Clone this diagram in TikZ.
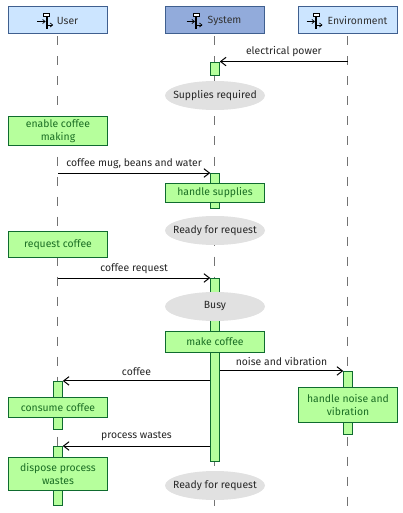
\documentclass[tikz,border=0pt]{standalone}
\usepackage{xcolor}
\usepackage{fontspec}
\setmainfont{Fira Sans}
\usepackage{tikz}
\usetikzlibrary{arrows.meta,positioning,shapes.geometric}

\definecolor{headblue}{HTML}{CCE5FF}
\definecolor{sysblue}{HTML}{92ABDB}
\definecolor{headline}{HTML}{3F5F8F}
\definecolor{actgreen}{HTML}{B6FF9C}
\definecolor{actline}{HTML}{0F6B2F}
\definecolor{acttext}{HTML}{1B6E24}
\definecolor{statefill}{HTML}{E1E1E1}

\begin{document}
\begin{tikzpicture}[
  x=1pt,y=-1pt,
  font=\fontsize{10.4}{12.8}\selectfont,
  head/.style={draw=headline,fill=headblue,rectangle,minimum width=99pt,minimum height=27pt,inner sep=0pt,line width=1pt,text=black!80},
  func/.style={draw=actline,fill=actgreen,rectangle,minimum width=99pt,inner sep=0pt,align=center,line width=1pt,text=acttext},
  act/.style={draw=actline,fill=actgreen,rectangle,minimum width=8.5pt,inner sep=0pt,line width=1pt},
  state/.style={ellipse,fill=statefill,minimum width=100pt,minimum height=29pt,inner xsep=-7pt,inner ysep=0pt,text=black!85},
  life/.style={draw=black!55,line width=0.8pt,dash pattern=on 9pt off 11pt,dash phase=18pt},
  msg/.style={-{Straight Barb[length=5.5pt,width=8.5pt]},line width=1pt,black},
  msgtext/.style={inner sep=0pt,text=black!85},
  mini/.pic={
    \draw[line width=1pt,fill=white] (-3,-7.5) rectangle (3,-4);
    \draw[line width=2pt] (0,-4) -- (0,8.5);
    \draw[line width=0.7pt,-{Straight Barb[length=2.5pt,width=4pt]}] (-9.5,0.5) -- (-1,0.5);
    \draw[line width=0.7pt,-{Straight Barb[length=2.5pt,width=4pt]}] (1,4) -- (6.5,4);
  }
]
\useasboundingbox (0,0) rectangle (403,513);

% columns
\node[head] (user) at (58,20.5) {\hspace*{19pt}User};
\node[head,fill=sysblue] (system) at (215,20.5) {\hspace*{19pt}System};
\node[head] (env) at (348,20.5) {\hspace*{19pt}Environment};
\pic at (46.7,21) {mini};
\pic at (196,21) {mini};
\pic at (316,21) {mini};

\coordinate (userend) at (57.5,510);
\coordinate (sysend) at (214.5,510);
\coordinate (envend) at (347.5,510);
\draw[life] (user.south -| userend) -- (userend);
\draw[life] (system.south -| sysend) -- (sysend);
\draw[life] (env.south -| envend) -- (envend);

% activations
\node[act,minimum height=13.5pt] (sysa) at (215,68.8) {};
\node[act,minimum height=35pt] (sysb) at (215,191) {};
\node[act,minimum height=183pt] (sysc) at (215,370) {};
\node[act,minimum height=63.5pt] (enva) at (348,403.2) {};
\node[act,minimum height=48pt] (usera) at (58,405.4) {};
\node[act,minimum height=59pt] (userb) at (58,476) {};

% functions
\node[func,minimum height=29pt] (enable) at (58,131) {enable coffee\\making};
\node[func,minimum height=19pt] (handle) at (215,192.8) {handle supplies};
\node[func,minimum height=26pt] (request) at (58,244.3) {request coffee};
\node[func,minimum height=21pt] (make) at (215,341.7) {make coffee};
\node[func,minimum height=35pt] (noise) at (348,404.8) {handle noise and\\vibration};
\node[func,minimum height=20pt] (consume) at (58,407.3) {consume coffee};
\node[func,minimum height=33pt] (dispose) at (58,473.8) {dispose process\\wastes};

% states
\node[state] (supplies) at (215,95.5) {Supplies required};
\node[state] (ready) at (215,230.5) {Ready for request};
\node[state] (busy) at (215,306.5) {Busy};
\node[state] (readyb) at (215,485.5) {Ready for request};

% messages
\coordinate (powerout) at (sysa.north east -| env);
\coordinate (mugout) at (sysb.north west -| user);
\coordinate (reqout) at (sysc.north west -| user);
\coordinate (noiseout) at (enva.north west -| sysc.east);
\coordinate (coffeeout) at (usera.north east -| sysc.west);
\coordinate (wasteout) at (userb.north east -| sysc.west);
\draw[msg] (powerout) -- (sysa.north east) node[msgtext,pos=0.5,yshift=9.5pt] {electrical power};
\draw[msg] (mugout) -- (sysb.north west) node[msgtext,pos=0.5,yshift=9.5pt] {coffee mug, beans and water};
\draw[msg] (reqout) -- (sysc.north west) node[msgtext,pos=0.5,yshift=9.5pt] {coffee request};
\draw[msg] (noiseout) -- (enva.north west) node[msgtext,pos=0.5,yshift=9.5pt] {noise and vibration};
\draw[msg] (coffeeout) -- (usera.north east) node[msgtext,pos=0.5,yshift=9.5pt] {coffee};
\draw[msg] (wasteout) -- (userb.north east) node[msgtext,pos=0.5,yshift=9.5pt] {process wastes};

\end{tikzpicture}
\end{document}
